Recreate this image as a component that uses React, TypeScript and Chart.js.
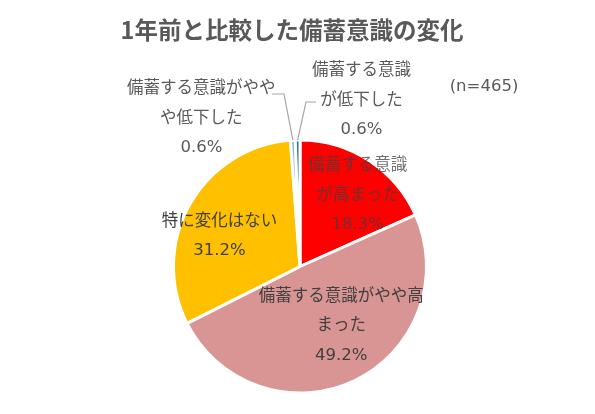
import React, { useEffect, useRef } from 'react';
import { Chart, registerables } from 'chart.js';

Chart.register(...registerables);

// data
const categories = [
  ['備蓄する意識', 'が高まった'],
  ['備蓄する意識がやや高', 'まった'],
  ['特に変化はない'],
  ['備蓄する意識がやや', 'や低下した'],
  ['備蓄する意識', 'が低下した'],
];
const values = [18.3, 49.2, 31.2, 0.6, 0.6];
const sliceColors = ['#FF0000', '#D99594', '#FFC000', '#8DB4E2', '#31708F'];

const titleText = '1年前と比較した備蓄意識の変化';
const sampleText = '(n=465)';

// label offsets from the slice anchor (px)
const labelOffsets = [
  [13, -2],
  [6, -15],
  [-9, 10],
  [-94, -66],
  [63, -84],
];
// leader lines for the small slices: [labelX, labelY, kneeX]
const leaders: (number[] | null)[] = [null, null, null, [272, 94, 284], [316, 102, 306]];

const FONT = '"DejaVu Sans", "Noto Sans CJK JP", sans-serif';
const TITLE_FONT = '"Noto Sans CJK JP", sans-serif';

const labelPlugin = {
  id: 'pieLabels',
  afterDraw(chart: any) {
    const ctx = chart.ctx;
    const meta = chart.getDatasetMeta(0);
    ctx.save();

    // title
    ctx.fillStyle = '#595959';
    ctx.font = `bold 23.5px ${TITLE_FONT}`;
    ctx.textAlign = 'center';
    ctx.textBaseline = 'middle';
    ctx.fillText(titleText, 292, 30);

    ctx.font = `16.5px ${FONT}`;
    ctx.fillText(sampleText, 484, 87);

    meta.data.forEach((arc: any, i: number) => {
      const mid = (arc.startAngle + arc.endAngle) / 2;
      const r = arc.outerRadius * 0.65;
      const ax = arc.x + Math.cos(mid) * r;
      const ay = arc.y + Math.sin(mid) * r;
      const lx = ax + labelOffsets[i][0];
      const ly = ay + labelOffsets[i][1];
      const lines = [...categories[i], values[i].toFixed(1) + '%'];
      const lh = 29.5;
      const top = ly - ((lines.length - 1) * lh) / 2;

      const ld = leaders[i];
      if (ld) {
        const ex = arc.x + Math.cos(mid) * arc.outerRadius;
        const ey = arc.y + Math.sin(mid) * arc.outerRadius;
        ctx.strokeStyle = '#A6A6A6';
        ctx.lineWidth = 1.2;
        ctx.beginPath();
        ctx.moveTo(ld[0], ld[1]);
        ctx.lineTo(ld[2], ld[1]);
        ctx.lineTo(ex, ey);
        ctx.stroke();
      }

      ctx.fillStyle = i === 0 ? 'rgba(64,64,64,0.75)' : i < 3 ? '#404040' : '#595959';
      ctx.font = `16.5px ${FONT}`;
      lines.forEach((t, k) => ctx.fillText(t, lx, top + k * lh));
    });
    ctx.restore();
  },
};

export default function App() {
  const chartRef = useRef<HTMLCanvasElement | null>(null);
  const chartInstanceRef = useRef<Chart | null>(null);

  useEffect(() => {
    document.body.style.margin = '0';
    if (!chartRef.current) return;
    if (chartInstanceRef.current) chartInstanceRef.current.destroy();

    chartInstanceRef.current = new Chart(chartRef.current, {
      type: 'pie',
      data: {
        labels: categories.map((c) => c.join('')),
        datasets: [
          {
            data: values,
            backgroundColor: sliceColors,
            borderColor: '#FFFFFF',
            borderWidth: 3,
          },
        ],
      },
      options: {
        animation: false,
        responsive: true,
        maintainAspectRatio: false,
        layout: { padding: { top: 137, bottom: 18, left: 172, right: 167 } },
        plugins: {
          legend: { display: false },
          tooltip: { enabled: false },
        },
      },
      plugins: [labelPlugin],
    });

    return () => {
      if (chartInstanceRef.current) {
        chartInstanceRef.current.destroy();
        chartInstanceRef.current = null;
      }
    };
  }, []);

  return (
    <div style={{ width: 595, height: 414, background: '#FFFFFF' }}>
      <canvas ref={chartRef} />
    </div>
  );
}
